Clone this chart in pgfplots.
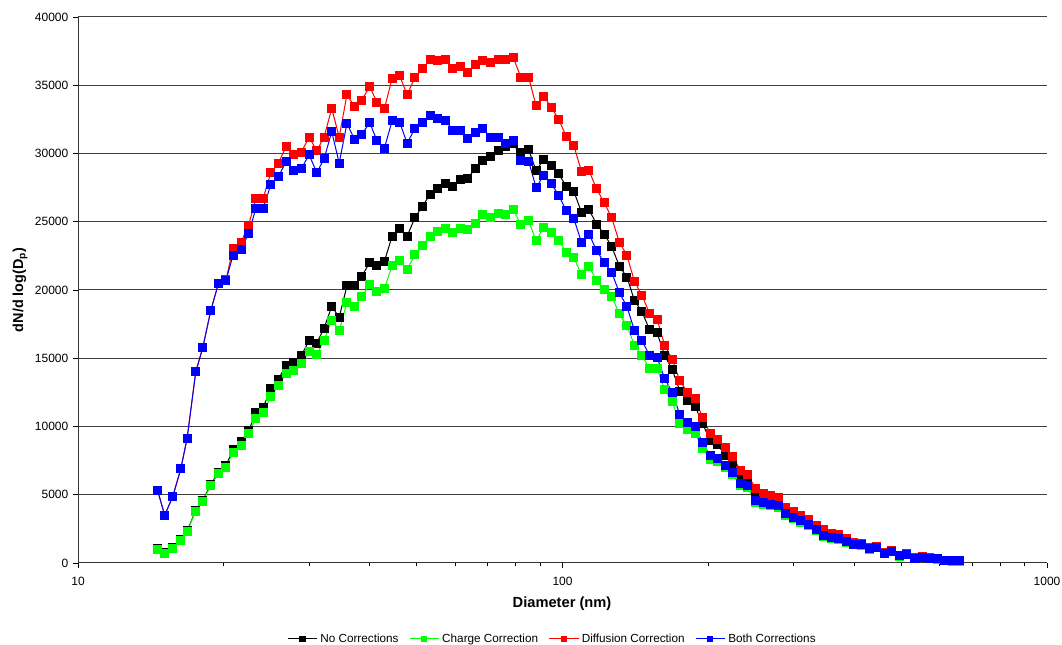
\documentclass[border=0pt]{standalone}
\usepackage{fontspec}
\setmainfont{Liberation Sans}
\usepackage{pgfplots}
\usepackage{pgfplotstable}
\pgfplotsset{compat=1.18}
\definecolor{cgreen}{HTML}{00FF00}
\definecolor{cred}{HTML}{FF0000}
\definecolor{cblue}{HTML}{0000FF}

% diameter (nm), No Corrections, Charge, Diffusion, Both
\pgfplotstableread{
d K G R B
14.6 1050 1000 5300 5300
15.1 750 700 3500 3500
15.7 1130 1080 4900 4900
16.3 1700 1640 6900 6900
16.8 2350 2300 9150 9150
17.5 3850 3800 14000 14000
18.1 4600 4540 15800 15800
18.8 5750 5670 18500 18500
19.5 6650 6570 20500 20500
20.2 7150 7030 20750 20700
20.9 8300 8100 23050 22550
21.7 8900 8600 23500 22950
22.5 9700 9500 24760 24150
23.3 11000 10600 26700 26000
24.1 11400 11000 26700 26000
25.0 12750 12200 28600 27700
25.9 13450 12970 29300 28300
26.9 14500 13900 30500 29400
27.9 14700 14100 29900 28750
28.9 15200 14600 30100 28900
30.0 16300 15500 31200 29900
31.1 16100 15300 30200 28600
32.2 17200 16300 31200 29600
33.4 18800 17800 33300 31600
34.6 18000 17000 31200 29300
35.9 20300 19100 34300 32200
37.2 20300 18800 33450 31050
38.5 21000 19500 33900 31400
40.0 22000 20400 34900 32250
41.4 21800 19900 33750 30950
42.9 22100 20100 33300 30400
44.5 23950 21800 35500 32400
46.1 24500 22150 35700 32300
47.8 23950 21500 34300 30750
49.6 25300 22600 35600 31850
51.4 26150 23250 36200 32300
53.3 27000 23950 36900 32800
55.2 27400 24300 36800 32600
57.3 27800 24500 36900 32450
59.4 27600 24200 36200 31700
61.5 28100 24500 36350 31650
63.8 28200 24400 35950 31100
66.1 28900 24900 36500 31550
68.5 29500 25500 36800 31800
71.0 29800 25300 36700 31200
73.7 30250 25600 36900 31200
76.4 30500 25500 36900 30750
79.1 30750 25900 37050 30950
82.0 30100 24800 35600 29500
85.1 30300 25100 35600 29450
88.2 28750 23600 33500 27500
91.4 29550 24600 34200 28400
94.7 29150 24200 33400 27800
98.2 28500 23650 32500 26950
101.8 27600 22750 31250 25800
105.5 27250 22400 30600 25250
109.4 25700 21100 28700 23500
113.4 25900 21700 28750 24100
117.6 24800 20700 27400 22900
121.9 24100 20050 26400 22000
126.3 23200 19550 25300 21300
131.0 21750 18250 23500 19800
135.8 20950 17400 22550 18800
140.7 19250 15950 20650 17050
145.9 18400 15200 19600 16300
151.2 17100 14250 18300 15200
156.8 16850 14250 17850 15050
162.5 15200 12700 15950 13500
168.5 14150 11800 14900 12500
174.7 12600 10200 13350 10850
181.1 11900 9750 12500 10300
187.7 11500 9500 12050 10000
194.6 10200 8400 10650 8800
201.7 9000 7600 9500 7850
209.1 8650 7450 9050 7650
216.7 7900 7000 8450 7150
224.7 7300 6450 7800 6600
232.9 6300 5650 6800 5800
241.4 6000 5500 6450 5650
250.3 5100 4450 5450 4600
259.5 4800 4250 5100 4400
269.0 4650 4180 4980 4300
278.8 4500 4060 4800 4180
289.0 3850 3500 4050 3600
299.6 3600 3250 3800 3350
310.6 3300 3000 3450 3100
322.0 3000 2720 3200 2800
333.8 2600 2380 2750 2450
346.0 2250 1940 2480 2000
358.7 2050 1830 2170 1880
371.8 1950 1750 2100 1800
385.4 1680 1520 1800 1560
399.5 1450 1350 1500 1390
414.2 1370 1290 1420 1320
429.4 1080 1000 1120 1030
445.1 1190 1120 1230 1150
461.4 760 700 800 720
478.3 870 810 900 830
495.8 550 500 580 520
514.0 670 620 700 640
532.8 380 340 400 350
552.3 440 410 460 420
572.5 360 330 380 340
593.5 320 290 330 300
615.3 175 150 190 160
637.8 160 140 170 150
661.2 160 140 170 150
}\data

\begin{document}
\begin{tikzpicture}
\useasboundingbox (-58.5pt,-61.5pt) rectangle (738pt,422.25pt);
\begin{axis}[
  xmode=log,
  scale only axis,
  width=726.75pt, height=409.5pt,
  xmin=10, xmax=1000, ymin=0, ymax=40000,
  axis x line=bottom, axis y line=left,
  axis line style={-, black!80, line width=0.75pt},
  xtick={10,100,1000}, xticklabels={10,100,1000},
  minor xtick={20,30,40,50,60,70,80,90,200,300,400,500,600,700,800,900},
  ytick={0,5000,...,40000},
  scaled y ticks=false,
  /pgf/number format/1000 sep={},
  /pgf/number format/assume math mode=true,
  ymajorgrids,
  major grid style={black!75, line width=0.75pt},
  tick align=outside,
  major tick length=3.75pt, minor tick length=2.5pt,
  tick style={black, line width=0.6pt},
  ticklabel style={font=\fontsize{9}{10}\selectfont},
  xticklabel style={yshift=-3pt},
  every axis plot/.append style={line width=0.75pt, mark=square*, mark size=3pt},
  legend style={at={(0.49,-0.139)}, anchor=center, draw=none,
    font=\fontsize{8.8}{10}\selectfont, legend columns=4,
    /tikz/every even column/.append style={column sep=6pt}},
  legend image code/.code={\draw[#1, mark size=1.9pt, mark repeat=2, mark phase=2]
    plot coordinates {(0pt,0pt) (11pt,0pt) (22pt,0pt)};},
]
\addplot[black, mark options={fill=black}] table[x=d, y=K] {\data};
\addlegendentry{No Corrections}
\addplot[cgreen, mark options={fill=cgreen}] table[x=d, y=G] {\data};
\addlegendentry{Charge Correction}
\addplot[cred, mark options={fill=cred}] table[x=d, y=R] {\data};
\addlegendentry{Diffusion Correction}
\addplot[cblue, mark options={fill=cblue}] table[x=d, y=B] {\data};
\addlegendentry{Both Corrections}
\end{axis}
\node[rotate=90, font=\bfseries\fontsize{10.8}{12}\selectfont] at (-43.5pt,204.75pt) {dN/d log(D\textsubscript{p})};
\node[font=\bfseries\fontsize{11}{12}\selectfont] at (363pt,-30.75pt) {Diameter (nm)};
\end{tikzpicture}
\end{document}
